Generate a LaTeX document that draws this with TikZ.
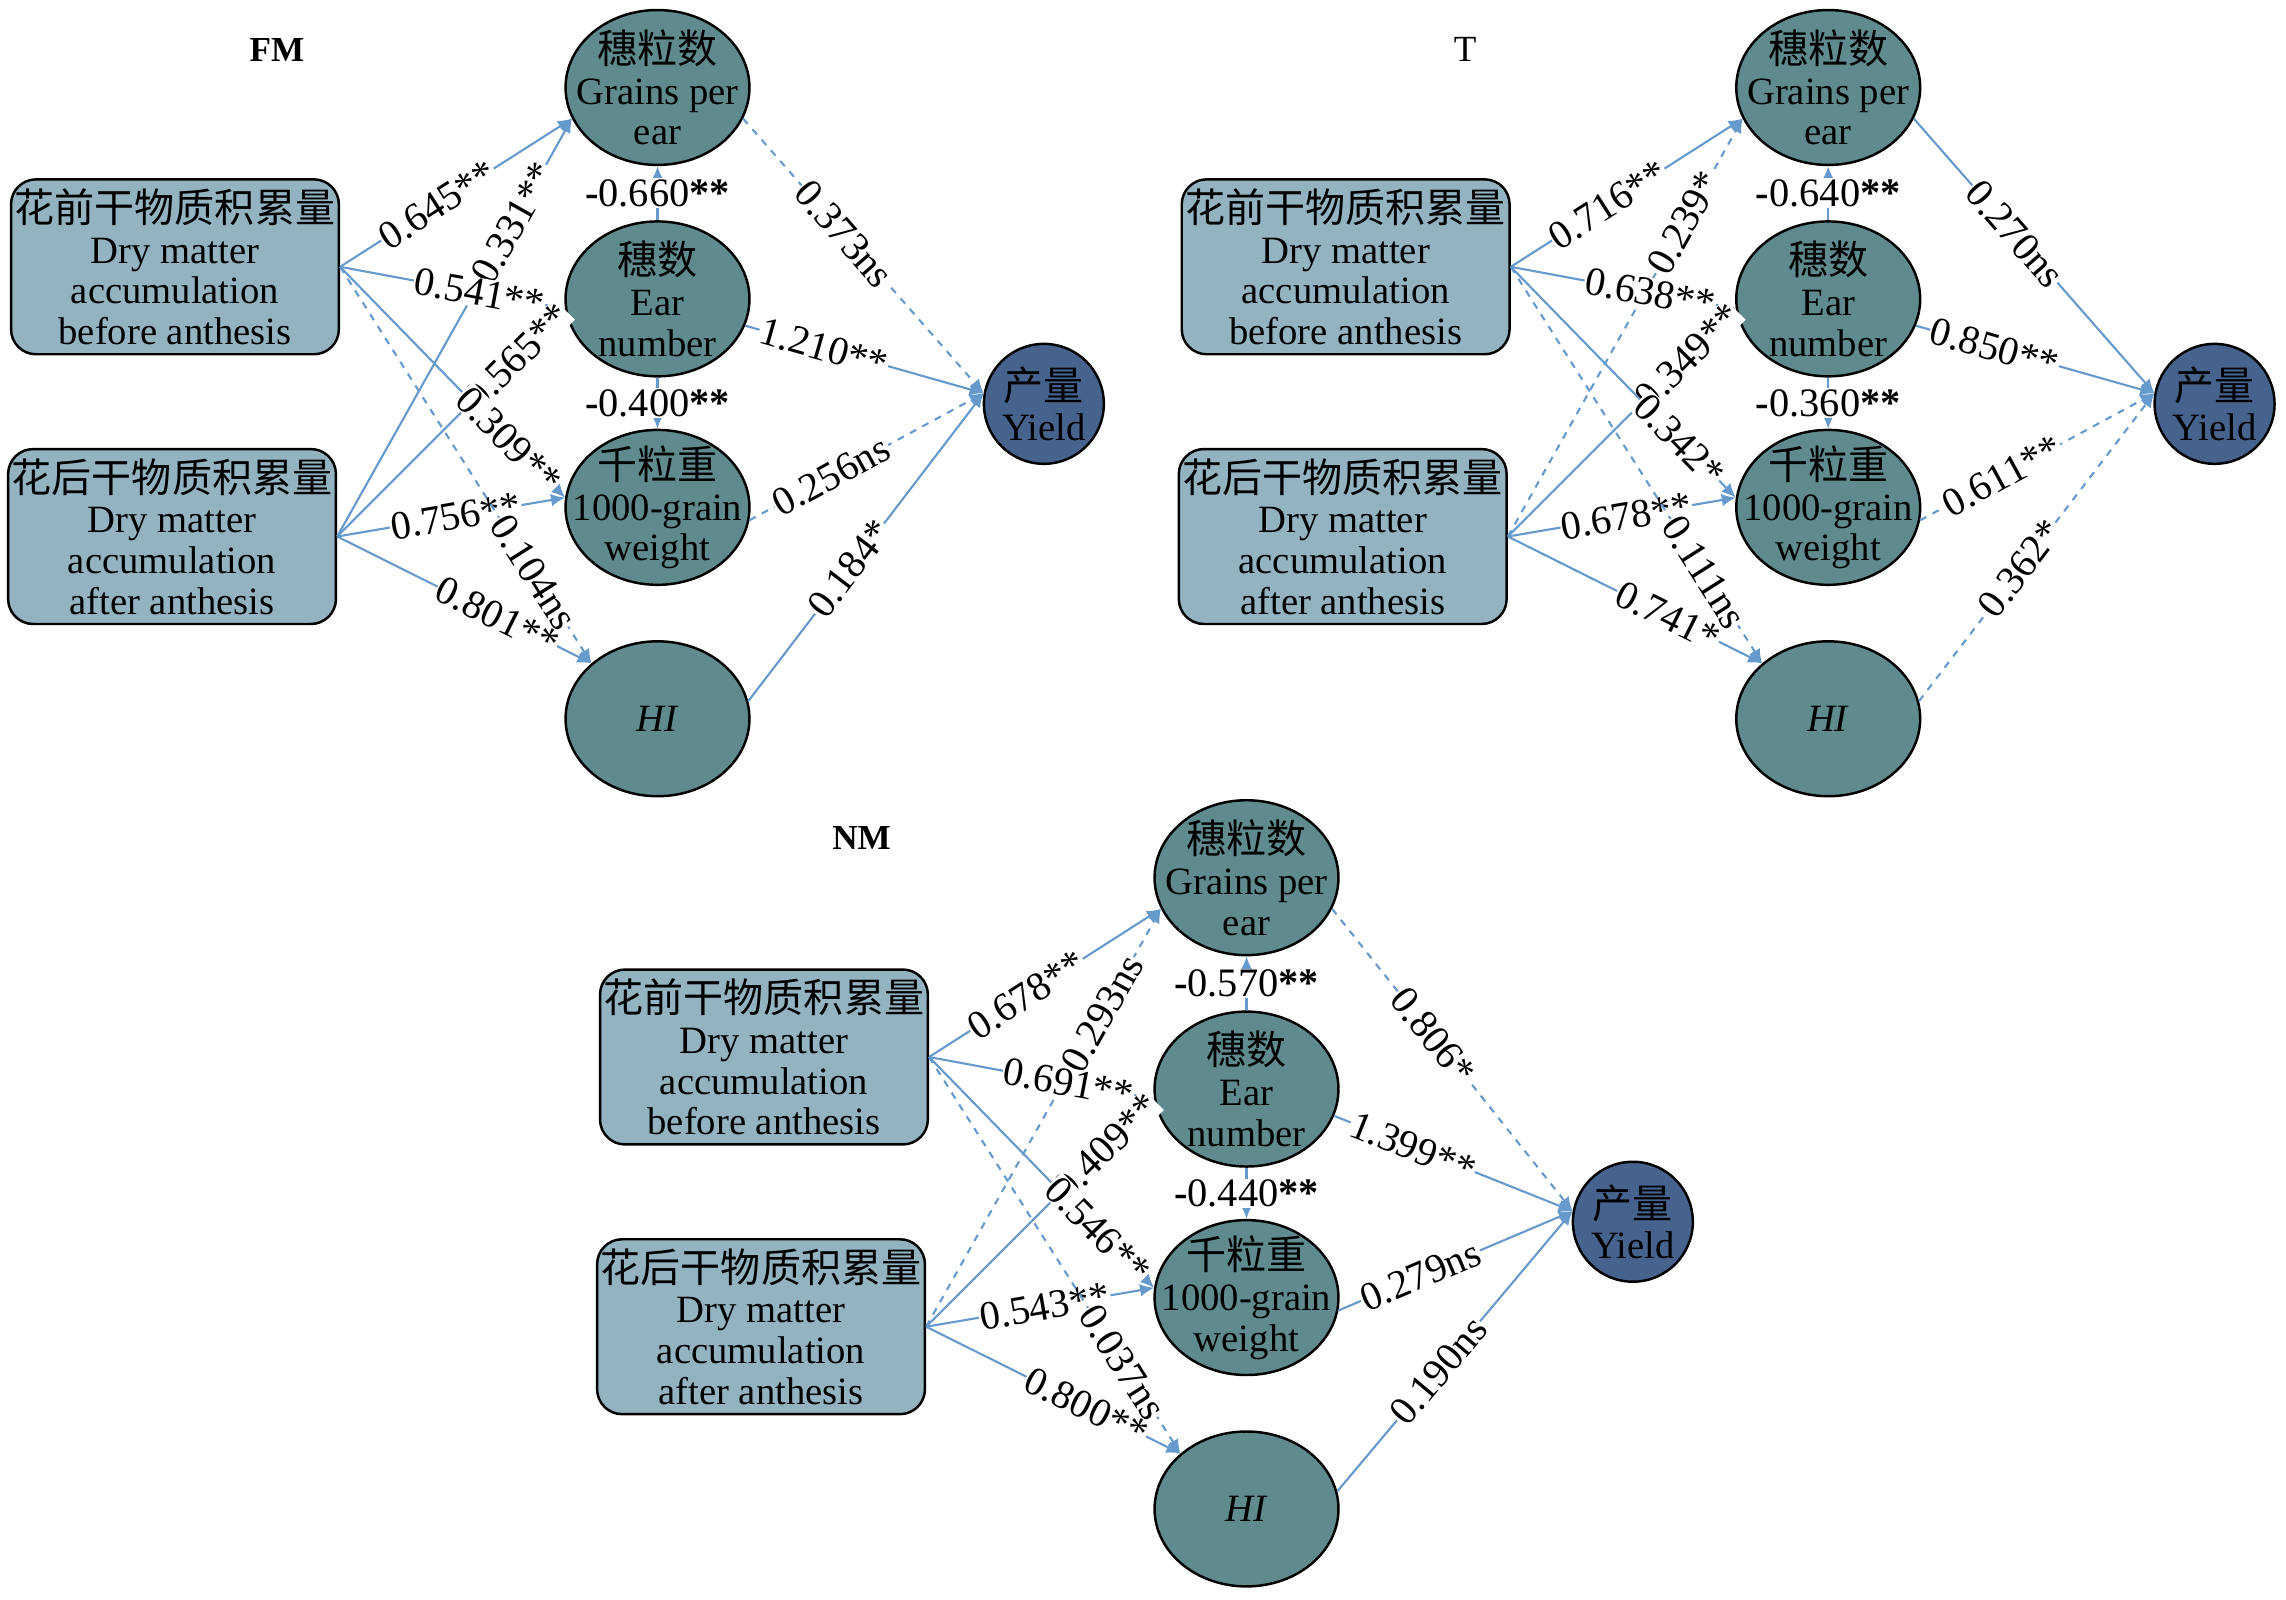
\documentclass[tikz,border=0pt]{standalone}
\usepackage{fontspec}
\setmainfont{Liberation Serif}
\newfontfamily\cjk{Noto Sans CJK SC}
\usepackage{tikz}
\usetikzlibrary{shapes.geometric,arrows.meta}

\definecolor{boxblue}{HTML}{93B3C1}
\definecolor{nodeteal}{HTML}{5F8B8F}
\definecolor{yieldblue}{HTML}{46638E}
\definecolor{edgeblue}{HTML}{6699CC}

\newcommand{\zh}[1]{{\cjk\fontsize{11.4}{11.6}\selectfont #1}}

\tikzset{
  dmbox/.style={draw, line width=0.7pt, fill=boxblue, rounded corners=0.25cm,
    minimum width=3.28cm, minimum height=1.75cm, align=center, inner sep=1pt,
    font=\fontsize{11}{11.6}\selectfont},
  trait/.style={ellipse, draw, line width=0.7pt, fill=nodeteal,
    minimum width=1.84cm, minimum height=1.55cm, inner sep=0pt},
  yieldnode/.style={ellipse, draw, line width=0.7pt, fill=yieldblue,
    minimum width=1.2cm, minimum height=1.2cm, inner sep=0pt},
  intext/.style={align=center, inner sep=0pt, font=\fontsize{11}{11.6}\selectfont},
  link/.style={draw=edgeblue, line width=0.6pt, -{Latex[length=4pt,width=3.6pt]}},
  nsd/.style={dash pattern=on 2pt off 2pt},
  elab/.style={sloped, fill=white, inner sep=0.3pt, font=\fontsize{11.5}{12}\selectfont},
  vlab/.style={fill=white, inner sep=0.3pt, font=\fontsize{11.5}{12}\selectfont},
  paneltitle/.style={font=\fontsize{10.5}{12}\selectfont}
}

% one panel: #1 prefix, #2 yield y, #3 ear->grains, #4 ear->weight
\newcommand{\pathpanel}[4]{%
  \node[dmbox] (#1bef) at (120,183) {\zh{花前干物质积累量}\\Dry matter\\accumulation\\before anthesis};
  \node[dmbox] (#1aft) at (118,368) {\zh{花后干物质积累量}\\Dry matter\\accumulation\\after anthesis};
  \node[trait, label={[intext]center:\zh{穗粒数}\\Grains per\\ear}] (#1gpe) at (451,60) {};
  \node[trait, label={[intext]center:\zh{穗数}\\Ear\\number}] (#1ear) at (451,205) {};
  \node[trait, label={[intext]center:\zh{千粒重}\\1000-grain\\weight}] (#1tgw) at (451,348) {};
  \node[trait, label={[intext]center:\textit{HI}}] (#1hi) at (451,493) {};
  \node[yieldnode, label={[intext]center:\zh{产量}\\Yield}] (#1yld) at (716,#2) {};
  \draw[link] (#1ear) -- node[vlab]{#3} (#1gpe);
  \draw[link] (#1ear) -- node[vlab]{#4} (#1tgw);
}

\begin{document}
\begin{tikzpicture}[x=0.01458cm, y=-0.01458cm]
\useasboundingbox (0,0) rectangle (1568,1097);

% FM
\node[paneltitle, font=\bfseries] (fmtitle) at (190,34) {FM};
\pathpanel{fm}{277}{\textbf{-}0.660\textbf{**}}{\textbf{-}0.400\textbf{**}}
\foreach \a/\b/\p/\s/\l in {
    bef.east/gpe.200/.42/solid/{0.645**}, aft.east/gpe.200/.75/solid/{0.331**},
    bef.east/ear.186/.62/solid/{0.541**}, aft.east/ear.186/.79/solid/{0.565**},
    bef.east/tgw.174/.75/solid/{0.309**}, aft.east/tgw.174/.52/solid/{0.756**},
    bef.east/hi.140/.77/nsd/{0.104ns},    aft.east/hi.140/.63/solid/{0.801**},
    gpe.340/yld.170/.42/nsd/{0.373ns},    ear.343/yld.170/.33/solid/{1.210**},
    tgw.352/yld.170/.35/nsd/{0.256ns},    hi.11/yld.170/.43/solid/{0.184*}}
  \draw[link,\s] (fm\a) -- node[elab,pos=\p]{\l} (fm\b);

% T
\node[paneltitle] (ttitle) at (1005,34) {T};
\begin{scope}[shift={(803,0)}]
\pathpanel{t}{277}{\textbf{-}0.640\textbf{**}}{\textbf{-}0.360\textbf{**}}
\foreach \a/\b/\p/\s/\l in {
    bef.east/gpe.200/.42/solid/{0.716**}, aft.east/gpe.200/.75/nsd/{0.239*},
    bef.east/ear.186/.62/solid/{0.638**}, aft.east/ear.186/.79/solid/{0.349**},
    bef.east/tgw.174/.75/solid/{0.342*},  aft.east/tgw.174/.52/solid/{0.678**},
    bef.east/hi.140/.77/nsd/{0.111ns},    aft.east/hi.140/.63/solid/{0.741*},
    gpe.340/yld.170/.42/solid/{0.270ns},  ear.343/yld.170/.33/solid/{0.850**},
    tgw.352/yld.170/.35/nsd/{0.611**},    hi.11/yld.170/.43/nsd/{0.362*}}
  \draw[link,\s] (t\a) -- node[elab,pos=\p]{\l} (t\b);
\end{scope}

% NM
\node[paneltitle, font=\bfseries] (nmtitle) at (591,575) {NM};
\begin{scope}[shift={(404,542)}]
\pathpanel{nm}{296}{\textbf{-}0.570\textbf{**}}{\textbf{-}0.440\textbf{**}}
\foreach \a/\b/\p/\s/\l in {
    bef.east/gpe.200/.42/solid/{0.678**}, aft.east/gpe.200/.75/nsd/{0.293ns},
    bef.east/ear.186/.62/solid/{0.691**}, aft.east/ear.186/.79/solid/{0.409**},
    bef.east/tgw.174/.75/solid/{0.546**}, aft.east/tgw.174/.52/solid/{0.543**},
    bef.east/hi.140/.77/nsd/{0.037ns},    aft.east/hi.140/.63/solid/{0.800**},
    gpe.340/yld.170/.42/nsd/{0.806*},     ear.343/yld.170/.33/solid/{1.399**},
    tgw.352/yld.170/.35/solid/{0.279ns},  hi.11/yld.170/.43/solid/{0.190ns}}
  \draw[link,\s] (nm\a) -- node[elab,pos=\p]{\l} (nm\b);
\end{scope}
\end{tikzpicture}
\end{document}
